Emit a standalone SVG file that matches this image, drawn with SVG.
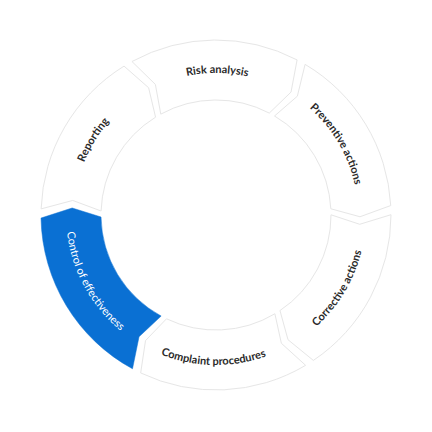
<svg xmlns="http://www.w3.org/2000/svg" xmlns:xlink="http://www.w3.org/1999/xlink" width="432" height="432" viewBox="0 0 432 432">
  <style>
    .seg { fill: #ffffff; stroke: #e6e6e6; stroke-width: 1; stroke-linejoin: miter; }
    .active { fill: #0a70d3; stroke: #0a70d3; stroke-width: 0.5; }
    .lbl { font-family: "Lato", "Liberation Sans", sans-serif; font-weight: 700; font-size: 11px; fill: #2b2b2b; }
    .lbl-active { fill: #ffffff; font-weight: 400; }
  </style>
  <defs>
    <path id="topArc" d="M82.56,166.43 A142,142 0 0 1 349.44,166.43"/>
    <path id="bottomArc" d="M75.05,266.30 A150,150 0 0 0 356.95,266.30"/>
  </defs>
  <rect x="0" y="0" width="432" height="432" fill="#ffffff"/>
  <g id="connectors"/>
  <g id="node-risk-analysis">
    <path class="seg" d="M131.96,61.50 A175,175 0 0 1 297.08,59.91 L291.03,92.08 L269.28,113.08 A115,115 0 0 0 160.77,114.13 L155.37,84.39 Z"/>
    <text class="lbl" transform="rotate(0.5 216 215)"><textPath xlink:href="#topArc" href="#topArc" startOffset="50%" text-anchor="middle">Risk analysis</textPath></text>
  </g>
  <g id="node-preventive-actions">
    <path class="seg" d="M305.08,64.37 A175,175 0 0 1 390.74,205.54 L359.99,216.76 L330.83,208.78 A115,115 0 0 0 274.54,116.01 L297.36,96.18 Z"/>
    <text class="lbl" transform="rotate(59.5 216 215)"><textPath xlink:href="#topArc" href="#topArc" startOffset="50%" text-anchor="middle">Preventive actions</textPath></text>
  </g>
  <g id="node-corrective-actions">
    <path class="seg" d="M391.00,214.69 A175,175 0 0 1 313.35,360.42 L288.00,339.71 L279.97,310.56 A115,115 0 0 0 331.00,214.80 L359.70,224.29 Z"/>
    <text class="lbl" transform="rotate(-59 216 215)"><textPath xlink:href="#bottomArc" href="#bottomArc" startOffset="50%" text-anchor="middle">Corrective actions</textPath></text>
  </g>
  <g id="node-complaint-procedures">
    <path class="seg" d="M305.61,365.32 A175,175 0 0 1 140.66,372.95 L145.53,340.58 L166.49,318.80 A115,115 0 0 0 274.89,313.78 L281.38,343.31 Z"/>
    <text class="lbl" transform="rotate(1 216 215)"><textPath xlink:href="#bottomArc" href="#bottomArc" startOffset="50%" text-anchor="middle">Complaint procedures</textPath></text>
  </g>
  <g id="node-control-of-effectiveness">
    <path class="active" d="M132.50,368.79 A175,175 0 0 1 41.03,218.05 L72.17,207.97 L101.02,217.01 A115,115 0 0 0 161.13,316.06 L139.05,336.72 Z"/>
    <text class="lbl lbl-active" transform="rotate(61.5 216 215)"><textPath xlink:href="#bottomArc" href="#bottomArc" startOffset="50%" text-anchor="middle">Control of effectiveness</textPath></text>
  </g>
  <g id="node-reporting">
    <path class="seg" d="M41.11,208.89 A175,175 0 0 1 124.04,66.11 L148.62,87.74 L155.57,117.16 A115,115 0 0 0 101.07,210.99 L72.74,200.45 Z"/>
    <text class="lbl" transform="rotate(-58.5 216 215)"><textPath xlink:href="#topArc" href="#topArc" startOffset="50%" text-anchor="middle">Reporting</textPath></text>
  </g>
</svg>
